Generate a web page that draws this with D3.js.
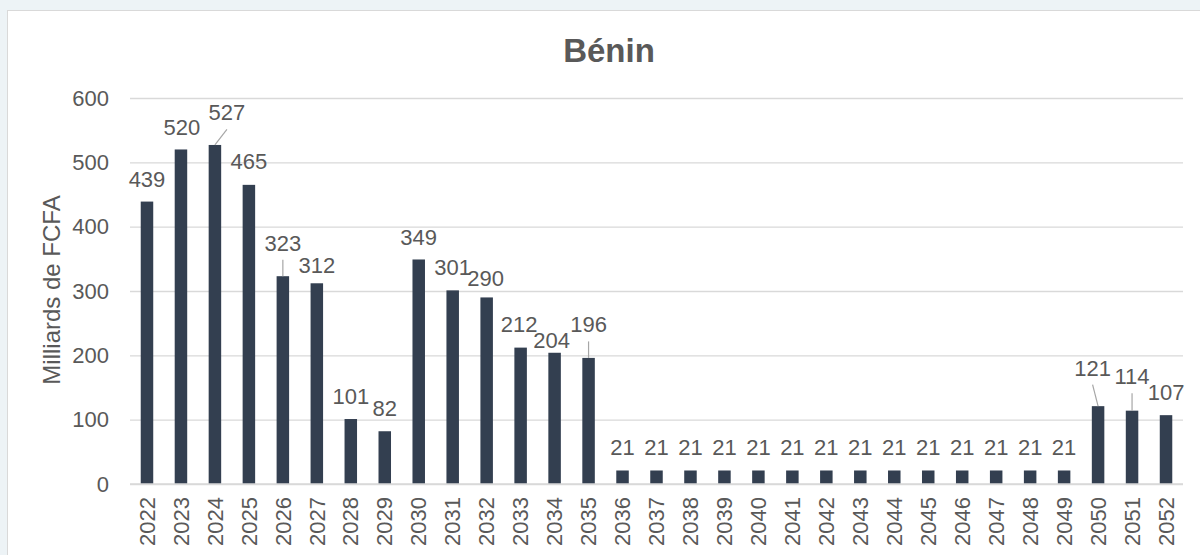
<!DOCTYPE html>
<html><head>
<meta charset="utf-8">
<script src="https://d3js.org/d3.v7.min.js"></script>
<style>
  body { margin: 0; background: #edf3f6; }
  svg text { font-family: "Liberation Sans", Arial, sans-serif; fill: #595959; }
  .gridlines line { stroke: #d9d9d9; stroke-width: 1.3; }
  .gridlines .domain { stroke: none; }
  .y.axis .domain, .y.axis line { stroke: none; }
</style>
</head>
<body>
<svg id="svg1" width="1200" height="555"></svg>
<script>

// data
const years = d3.range(2022, 2053).map(String);
const values = [439, 520, 527, 465, 323, 312, 101, 82, 349, 301, 290, 212, 204, 196,
                21, 21, 21, 21, 21, 21, 21, 21, 21, 21, 21, 21, 21, 21,
                121, 114, 107];
const yTicks = [0, 100, 200, 300, 400, 500, 600];
const chartTitle = "Bénin";
const yTitle = "Milliards de FCFA";

// manual label nudges (px) where the labels were moved by hand, leader = draw a line
const labelNudge = {
  "2022": [0, 1], "2023": [1, 1], "2024": [12, -9, true], "2026": [0, -10, true],
  "2027": [0, 5], "2030": [0, 1], "2032": [-1, 4], "2033": [-1.5, 0],
  "2034": [-3, 11], "2035": [0, -10, true], "2050": [-5.5, -15, true],
  "2051": [0, -11, true]
};

let svg1 = d3.select("svg#svg1");
const margins = {top: 98, left: 130, right: 17, bottom: 71};
const chWidth = 1200 - margins.left - margins.right;
const chHeight = 555 - margins.top - margins.bottom;

// white chart box
svg1.append("rect")
    .attr("x", 7.5).attr("y", 10.5)
    .attr("width", 1200).attr("height", 560)
    .attr("fill", "#fff").attr("stroke", "#d9d9d9");

svg1.append("text")
    .attr("x", 609).attr("y", 62)
    .attr("text-anchor", "middle")
    .style("font-size", "33px").style("font-weight", "bold")
    .text(chartTitle);

svg1.append("text")
    .attr("transform", `translate(52,290) rotate(-90)`)
    .attr("text-anchor", "middle")
    .attr("dy", "0.35em")
    .style("font-size", "24px")
    .text(yTitle);

let valScale = d3.scaleLinear().domain([0, 600]).range([chHeight, 0]);
let xScale = d3.scaleBand().domain(years).range([0, chWidth])
               .paddingInner(0.632).paddingOuter(0.316);

let annotations = svg1.append("g");
let chartArea = svg1.append("g")
    .attr("transform", `translate(${margins.left},${margins.top})`);

annotations.append("g")
    .attr("class", "y gridlines")
    .attr("transform", `translate(${margins.left},${margins.top})`)
    .call(d3.axisLeft(valScale).tickValues(yTicks).tickSize(-chWidth).tickFormat(""));

annotations.append("g")
    .attr("class", "y axis")
    .attr("transform", `translate(${margins.left - 21},${margins.top})`)
    .call(d3.axisLeft(valScale).tickValues(yTicks).tickSize(0).tickPadding(0))
    .selectAll("text")
    .style("font-size", "22px")
    .style("fill", "#595959")
    .style("font-family", "Liberation Sans, Arial, sans-serif");

// year labels
let bottom = annotations.append("g")
    .attr("transform", `translate(${margins.left},${margins.top + chHeight})`);
bottom.selectAll("text").data(years)
    .join("text")
    .attr("transform", d => `translate(${xScale(d) + xScale.bandwidth() / 2},13) rotate(-90)`)
    .attr("text-anchor", "end")
    .attr("dy", "0.35em")
    .style("font-size", "22px")
    .text(d => d);

// bars
chartArea.selectAll("rect.bar").data(values)
    .join("rect")
    .attr("class", "bar")
    .attr("x", (d, i) => xScale(years[i]))
    .attr("y", d => valScale(d))
    .attr("width", xScale.bandwidth())
    .attr("height", d => chHeight - valScale(d))
    .attr("fill", "#333f50");

// labels
const labelPos = (d, i) => {
  const n = labelNudge[years[i]] || [0, 0];
  return {
    x: xScale(years[i]) + xScale.bandwidth() / 2 + n[0],
    y: valScale(d) - 15.5 + n[1],
    leader: !!n[2]
  };
};

chartArea.selectAll("line.leader").data(values.map((d, i) => ({d, i})).filter(o => labelPos(o.d, o.i).leader))
    .join("line")
    .attr("class", "leader")
    .attr("x1", o => xScale(years[o.i]) + xScale.bandwidth() / 2)
    .attr("y1", o => valScale(o.d))
    .attr("x2", o => labelPos(o.d, o.i).x)
    .attr("y2", o => labelPos(o.d, o.i).y + 9)
    .attr("stroke", "#a6a6a6")
    .attr("stroke-width", 1.2);

chartArea.selectAll("text.lbl").data(values)
    .join("text")
    .attr("class", "lbl")
    .attr("x", (d, i) => labelPos(d, i).x)
    .attr("y", (d, i) => labelPos(d, i).y)
    .attr("text-anchor", "middle")
    .style("font-size", "22px")
    .text(d => d);

// zero line on top of bars
chartArea.append("line")
    .attr("x1", 0).attr("x2", chWidth)
    .attr("y1", chHeight).attr("y2", chHeight)
    .attr("stroke", "#d9d9d9").attr("stroke-width", 1.3);

</script>
</body></html>
